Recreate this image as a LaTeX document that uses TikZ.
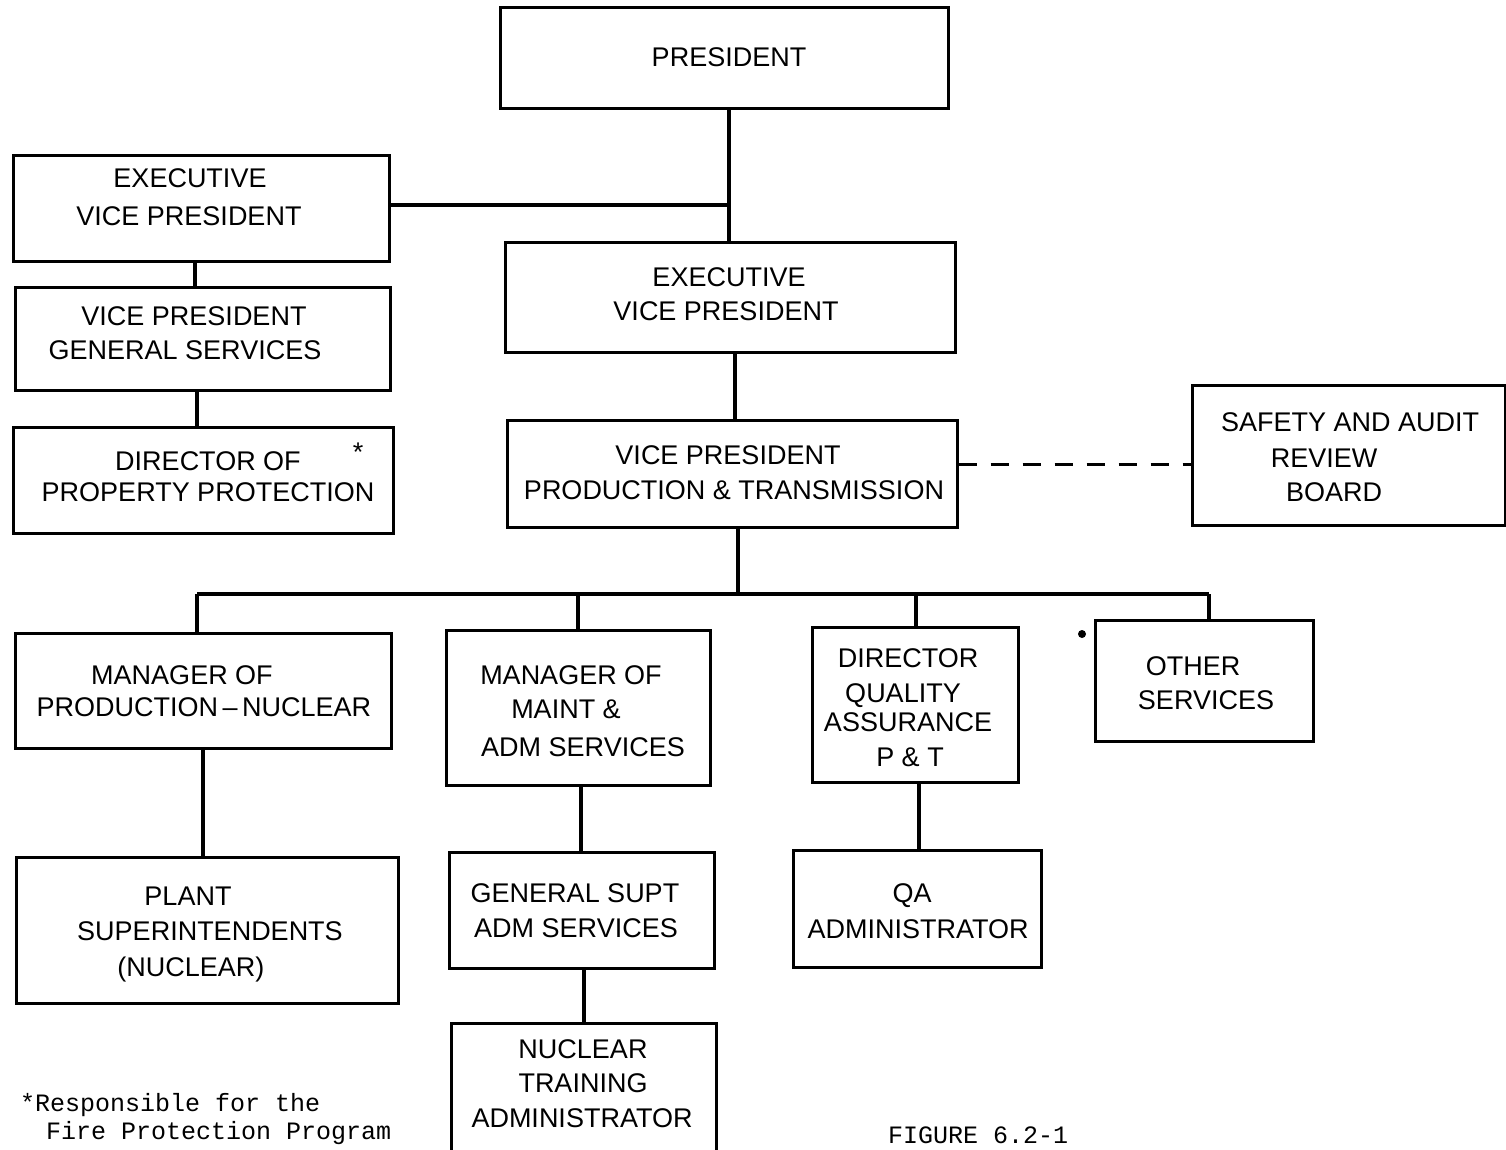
\documentclass[tikz,border=0pt]{standalone}
\usepackage{fontspec}
\setmainfont{Liberation Sans}
\newfontfamily\monofont{Liberation Mono}
\begin{document}
\begin{tikzpicture}[x=1pt,y=-1pt,
  box/.style={draw,line width=3pt,minimum width=#1,inner sep=0pt},
  lbl/.style={inner sep=0pt,text height=19.5pt,text depth=0pt,font=\fontsize{27}{30}\selectfont},
  conn/.style={line width=3.2pt},
  dashconn/.style={line width=3pt,dash pattern=on 18pt off 14pt},
  note/.style={inner sep=0pt,anchor=base west,font=\monofont\fontsize{25}{28}\selectfont}]
\useasboundingbox (0,0) rectangle (1506,1149);
\clip (0,0) rectangle (1506,1149);
\fill[white] (0,0) rectangle (1506,1149);
% boxes
\node[box=448pt,minimum height=101pt] (pres) at (724,57.5) {};
\node[box=376pt,minimum height=106pt] (evpL) at (201,208) {};
\node[box=450pt,minimum height=110pt] (evpC) at (730,297) {};
\node[box=375pt,minimum height=103pt] (vpgs) at (202.5,338.5) {};
\node[box=380pt,minimum height=106pt] (dpp) at (203,480) {};
\node[box=450pt,minimum height=107pt] (vppt) at (732,473.5) {};
\node[box=313pt,minimum height=140pt] (sarb) at (1348.5,455) {};
\node[box=376pt,minimum height=115pt] (mpn) at (203,690.5) {};
\node[box=264pt,minimum height=155pt] (mmas) at (578,707.5) {};
\node[box=206pt,minimum height=155pt] (dqa) at (915,704.5) {};
\node[box=218pt,minimum height=121pt] (oth) at (1204,680.5) {};
\node[box=382pt,minimum height=146pt] (ps) at (207,930) {};
\node[box=265pt,minimum height=116pt] (gs) at (581.5,910) {};
\node[box=248pt,minimum height=117pt] (qaa) at (917,908.5) {};
\node[box=265pt,minimum height=137pt] (nta) at (583.5,1091.5) {};
% labels
\node[lbl] (t1) at (729,57) {PRESIDENT};
\node[lbl] (t2) at (190,178) {EXECUTIVE};
\node[lbl] (t3) at (189,216) {VICE PRESIDENT};
\node[lbl] (t4) at (194,316) {VICE PRESIDENT};
\node[lbl] (t5) at (185,350) {GENERAL SERVICES};
\node[lbl] (t6) at (208,461) {DIRECTOR OF};
\node[lbl] (t7) at (208,492) {PROPERTY PROTECTION};
\node[lbl] (ast1) at (358,452) {*};
\node[lbl] (t8) at (729,277) {EXECUTIVE};
\node[lbl] (t9) at (726,311) {VICE PRESIDENT};
\node[lbl] (t10) at (728,455) {VICE PRESIDENT};
\node[lbl] (t11) at (734,490) {PRODUCTION \& TRANSMISSION};
\node[lbl] (t12) at (1350,422) {SAFETY AND AUDIT};
\node[lbl] (t13) at (1324,458) {REVIEW};
\node[lbl] (t14) at (1334,492) {BOARD};
\node[lbl] (t15) at (182,675) {MANAGER OF};
\node[lbl] (t16) at (204,707) {PRODUCTION\,–\,NUCLEAR};
\node[lbl] (t17) at (571,675) {MANAGER OF};
\node[lbl] (t18) at (566,709) {MAINT \&};
\node[lbl] (t19) at (583,747) {ADM SERVICES};
\node[lbl] (t20) at (908,658) {DIRECTOR};
\node[lbl] (t21) at (903,693) {QUALITY};
\node[lbl] (t22) at (908,722) {ASSURANCE};
\node[lbl] (t23) at (910,757) {P \& T};
\node[lbl] (t24) at (1193,666) {OTHER};
\node[lbl] (t25) at (1206,700) {SERVICES};
\node[lbl] (t26) at (188,896) {PLANT};
\node[lbl] (t27) at (210,931) {SUPERINTENDENTS};
\node[lbl] (t28) at (191,967) {(NUCLEAR)};
\node[lbl] (t29) at (575,893) {GENERAL SUPT};
\node[lbl] (t30) at (576,928) {ADM SERVICES};
\node[lbl] (t31) at (912,893) {QA};
\node[lbl] (t32) at (918,929) {ADMINISTRATOR};
\node[lbl] (t33) at (583,1049) {NUCLEAR};
\node[lbl] (t34) at (583,1083) {TRAINING};
\node[lbl] (t35) at (582,1118) {ADMINISTRATOR};
\fill (1082,634) circle (4pt);
% footnote and figure caption
\node[note] (fn1) at (20,1111) {*Responsible for the};
\node[note] (fn2) at (46,1139) {Fire Protection Program};
\node[note] (fig) at (888,1143) {FIGURE 6.2-1};
% connector coordinates
\coordinate (xa) at (729,0);
\coordinate (ya) at (0,205);
\coordinate (xb) at (195,0);
\coordinate (xc) at (197,0);
\coordinate (xd) at (735,0);
\coordinate (yd) at (0,464);
\coordinate (xe) at (738,0);
\coordinate (bus) at (0,594);
\coordinate (d1) at (197,0);
\coordinate (d2) at (578,0);
\coordinate (d3) at (916,0);
\coordinate (d4) at (1209,0);
\coordinate (xf) at (203,0);
\coordinate (xg) at (581,0);
\coordinate (xh) at (584,0);
\coordinate (xi) at (919,0);
% connectors
\draw[conn] (xa |- pres.south) -- (xa |- evpC.north);
\draw[conn] (evpL.east |- ya) -- (xa |- ya);
\draw[conn] (xb |- evpL.south) -- (xb |- vpgs.north);
\draw[conn] (xc |- vpgs.south) -- (xc |- dpp.north);
\draw[conn] (xd |- evpC.south) -- (xd |- vppt.north);
\draw[dashconn] (vppt.east |- yd) -- (sarb.west |- yd);
\draw[conn] (xe |- vppt.south) -- (xe |- bus);
\draw[conn] (d1 |- bus) -- (d4 |- bus);
\draw[conn] (d1 |- bus) -- (d1 |- mpn.north);
\draw[conn] (d2 |- bus) -- (d2 |- mmas.north);
\draw[conn] (d3 |- bus) -- (d3 |- dqa.north);
\draw[conn] (d4 |- bus) -- (d4 |- oth.north);
\draw[conn] (xf |- mpn.south) -- (xf |- ps.north);
\draw[conn] (xg |- mmas.south) -- (xg |- gs.north);
\draw[conn] (xh |- gs.south) -- (xh |- nta.north);
\draw[conn] (xi |- dqa.south) -- (xi |- qaa.north);
\end{tikzpicture}
\end{document}
